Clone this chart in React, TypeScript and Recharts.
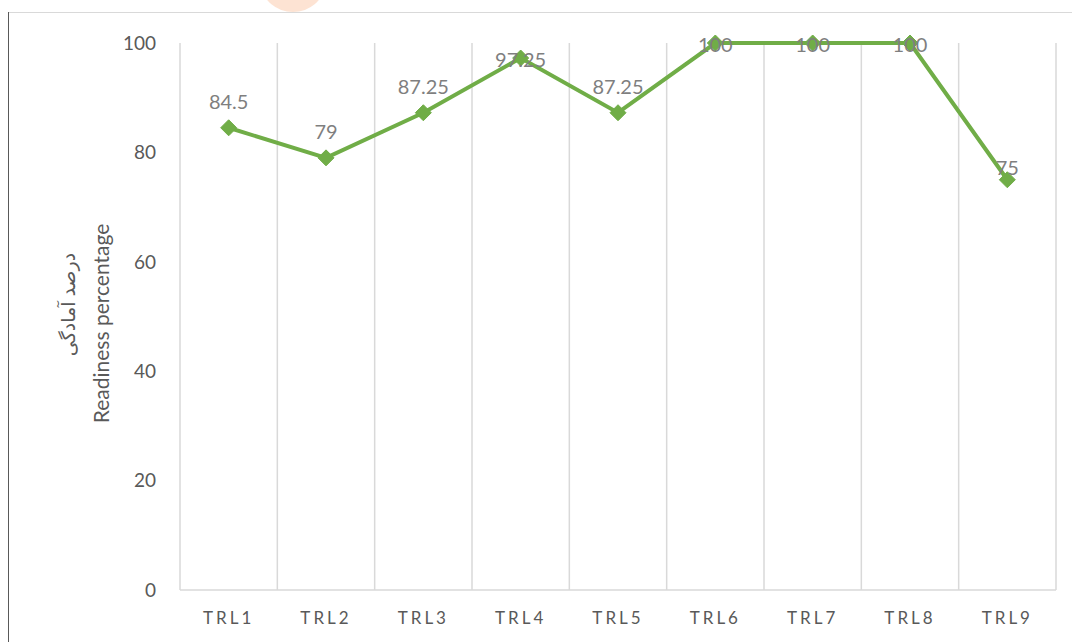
import React from 'react';
import { LineChart, Line, XAxis, YAxis, ReferenceLine, Label } from 'recharts';

const categories = ['TRL1', 'TRL2', 'TRL3', 'TRL4', 'TRL5', 'TRL6', 'TRL7', 'TRL8', 'TRL9'];
const readiness = [84.5, 79, 87.25, 97.25, 87.25, 100, 100, 100, 75];
const yTicks = [0, 20, 40, 60, 80, 100];

const data = categories.map((name, i) => ({ x: i + 0.5, name, value: readiness[i] }));
const xTicks = data.map((d) => d.x);
const bounds = categories.map((_, i) => i).concat(categories.length);

const FONT = 'Lato, "Open Sans", sans-serif';

const Diamond = (props: any) => {
  const { cx, cy } = props;
  if (cx == null || cy == null) return null;
  const r = 8;
  return (
    <polygon
      points={`${cx},${cy - r} ${cx + r},${cy} ${cx},${cy + r} ${cx - r},${cy}`}
      fill="#70ad47"
      stroke="#70ad47"
    />
  );
};

// labels sit above the marker unless that would leave the plot, then they sit on it
const ValueLabel = (props: any) => {
  const { x, y, value, index } = props;
  let dy = -27;
  if (y - 27 < 50) dy = 1;
  else if (index === categories.length - 1) dy = -13;
  return (
    <text x={x} y={y + dy} textAnchor="middle" dominantBaseline="central" fill="#7f7f7f" fontSize={20} fontFamily={FONT}>
      {value}
    </text>
  );
};

const AxisTitle = (props: any) => {
  const vb = props.viewBox || {};
  const cy = vb.y + vb.height / 2;
  return (
    <g>
      <text x={100} y={cy + 7} transform={`rotate(-90, 100, ${cy + 7})`} textAnchor="middle" dominantBaseline="central" fill="#595959" fontSize={21} fontFamily={FONT}>
        Readiness percentage
      </text>
      <text x={68} y={cy - 12} transform={`rotate(-90, 68, ${cy - 12})`} textAnchor="middle" dominantBaseline="central" fill="#595959" fontSize={19} fontFamily='"Noto Sans", "DejaVu Sans", sans-serif'>
        درصد آمادگی
      </text>
    </g>
  );
};

export default function App() {
  return (
    <div style={{ position: 'absolute', left: 0, top: 0, width: 1072, height: 642, background: '#fff', overflow: 'hidden' }}>
      <div style={{ position: 'absolute', left: 262, top: -42, width: 62, height: 54, borderRadius: '50%', background: '#fde3d3' }} />
      <div style={{ position: 'absolute', left: 8, top: 12, right: 0, height: 1, background: '#d9d9d9' }} />
      <div style={{ position: 'absolute', left: 8, top: 12, width: 1, bottom: 0, background: '#595959' }} />
      <div style={{ position: 'absolute', left: 0, top: 0 }}>
        <LineChart width={1072} height={642} data={data} margin={{ top: 43, right: 16, bottom: 22, left: 90 }}>
          {bounds.map((b) => (
            <ReferenceLine key={b} x={b} stroke="#d9d9d9" strokeWidth={1.5} ifOverflow="extendDomain" />
          ))}
          <XAxis
            dataKey="x"
            type="number"
            domain={[0, categories.length]}
            ticks={xTicks}
            tickFormatter={(v: number) => categories[Math.round(v - 0.5)]}
            tickLine={false}
            axisLine={{ stroke: '#d9d9d9', strokeWidth: 1.5 }}
            tick={{ fill: '#595959', fontSize: 17, fontFamily: FONT, letterSpacing: 3 }}
            tickMargin={16}
            interval={0}
          />
          <YAxis
            width={90}
            domain={[0, 100]}
            ticks={yTicks}
            tickLine={false}
            axisLine={false}
            tickSize={0}
            tickMargin={24}
            tick={{ fill: '#595959', fontSize: 19, fontFamily: FONT }}
          >
            <Label content={<AxisTitle />} />
          </YAxis>
          <Line
            type="linear"
            dataKey="value"
            stroke="#70ad47"
            strokeWidth={4}
            dot={<Diamond />}
            activeDot={false}
            label={<ValueLabel />}
            isAnimationActive={false}
          />
        </LineChart>
      </div>
    </div>
  );
}
